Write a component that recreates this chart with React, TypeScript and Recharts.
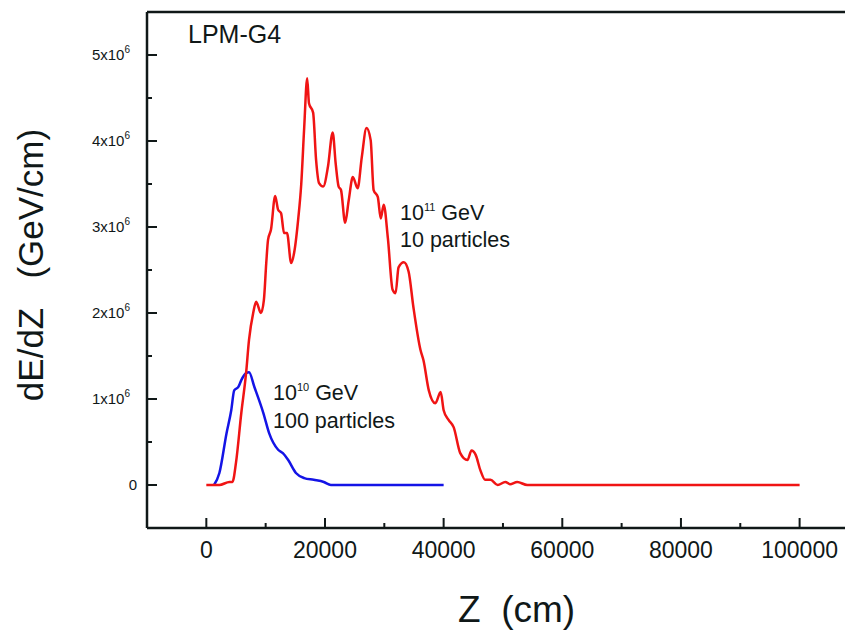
import React from 'react'
import { LineChart, Line, XAxis, YAxis, ReferenceLine } from 'recharts'

// 10^11 GeV, 10 particles (red)
const redZ = [0, 2200, 3900, 4400, 5000, 5900, 6700, 7200, 7900, 8400, 9200, 9700, 10100, 10400, 10900, 11600, 12100, 12600, 13100, 13600, 14300, 14800, 15500, 16000, 16500, 17000, 17300, 18000, 18500, 19000, 19700, 20500, 21300, 21800, 22300, 22700, 23400, 24000, 24700, 25500, 26200, 27000, 27700, 28200, 28900, 29400, 29900, 30600, 31400, 31900, 32400, 33300, 34100, 34900, 36100, 36600, 37500, 38600, 39500, 40000, 40800, 41700, 42800, 44000, 44700, 45400, 46200, 47000, 47900, 49100, 50400, 51200, 52400, 54100, 100000]
const redE = [0, 0, 0.035, 0.035, 0.26, 0.84, 1.3, 1.69, 2.0, 2.13, 2.0, 2.15, 2.58, 2.85, 2.97, 3.36, 3.2, 3.16, 2.93, 2.93, 2.58, 2.7, 3.1, 3.5, 4.16, 4.73, 4.44, 4.33, 3.78, 3.51, 3.47, 3.7, 4.1, 3.74, 3.47, 3.43, 3.05, 3.31, 3.58, 3.45, 3.81, 4.15, 4.01, 3.43, 3.35, 3.1, 3.26, 2.87, 2.27, 2.23, 2.53, 2.59, 2.48, 2.07, 1.57, 1.45, 1.1, 0.95, 1.08, 0.87, 0.76, 0.67, 0.37, 0.29, 0.4, 0.35, 0.17, 0.06, 0.06, 0, 0.035, 0.01, 0.035, 0, 0]

// 10^10 GeV, 100 particles (blue)
const blueZ = [1300, 2200, 3400, 4200, 4700, 5400, 5900, 6700, 7200, 8100, 9600, 10600, 12100, 12900, 13800, 15100, 16500, 18100, 19800, 21000, 40000]
const blueE = [0, 0.14, 0.6, 0.87, 1.1, 1.14, 1.22, 1.3, 1.31, 1.14, 0.84, 0.6, 0.41, 0.37, 0.29, 0.14, 0.08, 0.06, 0.035, 0, 0]

const xTicks = [0, 10000, 20000, 30000, 40000, 50000, 60000, 70000, 80000, 90000, 100000]
const yTicks = [0, 0.5e6, 1e6, 1.5e6, 2e6, 2.5e6, 3e6, 3.5e6, 4e6, 4.5e6, 5e6]

const redData = redZ.map((z, i) => ({ z, e: redE[i] * 1e6 }))
const blueData = blueZ.map((z, i) => ({ z, e: blueE[i] * 1e6 }))

const FONT = '"Liberation Sans", Arial, Helvetica, sans-serif'
const INK = '#101818'

const XTick = (props: any) => {
    const { x, y, payload } = props
    const v = payload.value
    const major = v % 20000 === 0
    return (
        <g>
            <line x1={x} x2={x} y1={y} y2={y - (major ? 10 : 5)} stroke={INK} strokeWidth={2} />
            {major && (
                <text x={x} y={y + 30} textAnchor="middle" fontSize={23} fill={INK} fontFamily={FONT}>
                    {v}
                </text>
            )}
        </g>
    )
}

const YTick = (props: any) => {
    const { x, y, payload } = props
    const v = payload.value
    const major = v % 1e6 === 0
    return (
        <g>
            <line x1={x} x2={x + (major ? 10 : 5)} y1={y} y2={y} stroke={INK} strokeWidth={2} />
            {major && v === 0 && (
                <text x={x - 10} y={y + 5} textAnchor="end" fontSize={15} fill={INK} fontFamily={FONT}>0</text>
            )}
            {major && v !== 0 && (
                <text x={x - 17} y={y + 5} textAnchor="end" fontSize={15} fill={INK} fontFamily={FONT}>
                    {`${v / 1e6}x10`}
                    <tspan fontSize={10} dy={-7}>6</tspan>
                </text>
            )}
        </g>
    )
}

export default function App() {
    return (
        <div style={{ position: 'relative', width: 845, height: 625 }}>
            <style>{'html,body{overflow:hidden}'}</style>
            <LineChart width={845} height={625} margin={{ top: 4, right: 0, left: 0, bottom: 45 }}>
                <XAxis
                    dataKey="z"
                    type="number"
                    domain={[-10000, 109000]}
                    allowDataOverflow
                    ticks={xTicks}
                    interval={0}
                    tickSize={0}
                    tickMargin={0}
                    tickLine={false}
                    tick={<XTick />}
                    height={60}
                    axisLine={{ stroke: INK, strokeWidth: 2.5 }}
                />
                <YAxis
                    type="number"
                    domain={[-500000, 5500000]}
                    allowDataOverflow
                    ticks={yTicks}
                    interval={0}
                    tickSize={0}
                    tickMargin={0}
                    tickLine={false}
                    tick={<YTick />}
                    width={139}
                    axisLine={{ stroke: INK, strokeWidth: 2.5 }}
                />
                <ReferenceLine y={5500000} stroke={INK} strokeWidth={2.5} />
                <Line data={blueData} dataKey="e" type="monotone" stroke="#1414e6" strokeWidth={2.5} dot={false} isAnimationActive={false} />
                <Line data={redData} dataKey="e" type="monotone" stroke="#f01414" strokeWidth={2.5} dot={false} isAnimationActive={false} />
            </LineChart>
            <svg width={845} height={625} style={{ position: 'absolute', left: 0, top: 0, pointerEvents: 'none' }} fontFamily={FONT} fill={INK}>
                <text x={180} y={35} fontSize={25}>LPM-G4</text>
                <text x={392} y={212} fontSize={21.5}>
                    10<tspan fontSize={11} dy={-9}>11</tspan>
                    <tspan dy={9}> GeV</tspan>
                </text>
                <text x={392} y={239} fontSize={21.5}>10 particles</text>
                <text x={265} y={392} fontSize={21.5}>
                    10<tspan fontSize={11} dy={-9}>10</tspan>
                    <tspan dy={9}> GeV</tspan>
                </text>
                <text x={265} y={420} fontSize={21.5}>100 particles</text>
                <text x={35} y={257} fontSize={35} textAnchor="middle" transform="rotate(-90 35 257)" style={{ whiteSpace: 'pre' }}>
                    {'dE/dZ   (GeV/cm)'}
                </text>
                <text x={450} y={614} fontSize={37} style={{ whiteSpace: 'pre' }}>
                    {'Z  (cm)'}
                </text>
            </svg>
        </div>
    )
}
